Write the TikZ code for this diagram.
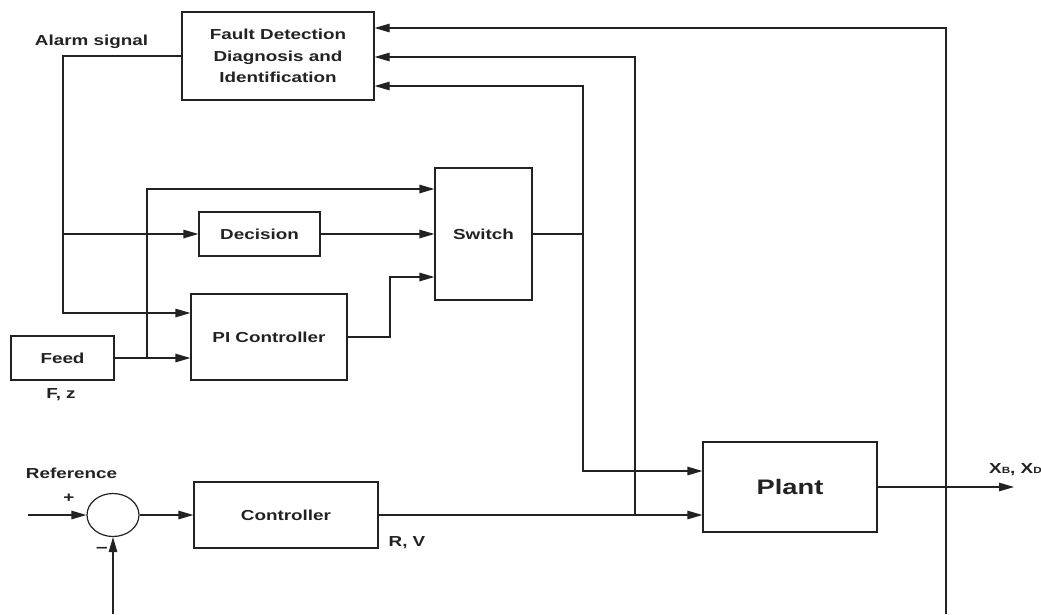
\documentclass[tikz,border=0pt]{standalone}
\usepackage{fontspec}
\setmainfont{Liberation Sans}[FakeStretch=1.3]
\usetikzlibrary{arrows.meta,shapes.geometric,calc}
\definecolor{ink}{HTML}{222222}
\tikzset{
  blk/.style={draw=ink, line width=1.2pt, rectangle, inner sep=0pt, align=center, text=ink,
              font=\bfseries\fontsize{14.5}{21.5}\selectfont},
  lbl/.style={inner sep=0pt, text=ink, font=\bfseries\fontsize{14.5}{17}\selectfont},
  ln/.style={draw=ink, line width=1.2pt},
  arr/.style={ln, -{Triangle[length=15pt,width=8.5pt]}}
}
\begin{document}
\begin{tikzpicture}[x=1pt,y=-1pt]
\useasboundingbox (0,0) rectangle (1041,614);
% blocks
\node[blk, minimum width=192, minimum height=88] (fdi) at (278,56) {Fault Detection\\Diagnosis and\\Identification};
\node[blk, minimum width=121, minimum height=44] (dec) at (259.5,234) {Decision};
\node[blk, minimum width=97, minimum height=132] (sw) at (483.5,234) {Switch};
\node[blk, minimum width=156, minimum height=86] (pi) at (269,337) {PI Controller};
\node[blk, minimum width=103, minimum height=44] (feed) at (62.5,358) {Feed};
\node[blk, minimum width=184, minimum height=66] (ctrl) at (286,515) {Controller};
\node[blk, minimum width=174, minimum height=90, font=\bfseries\fontsize{21}{25}\selectfont] (plant) at (790,487) {Plant};
\node[draw=ink, line width=1.2pt, ellipse, minimum width=52, minimum height=43, inner sep=0pt] (sum) at (113,515) {};
% labels
\node[lbl] (alarm) at (91.5,42) {Alarm signal};
\node[lbl] (fz) at (61,395) {F, z};
\node[lbl] (ref) at (71.5,473) {Reference};
\node[lbl] (plus) at (69,498) {+};
\node[lbl, font=\bfseries\fontsize{16}{17}\selectfont] (minus) at (102,550) {\textendash};
\node[lbl] (rv) at (407,543) {R, V};
\node[lbl, anchor=west] (xbxd) at (989,470) {X{\fontsize{9}{10}\selectfont B}, X{\fontsize{9}{10}\selectfont D}};
% junction coordinates
\coordinate (a2) at (63,234);
\coordinate (a3) at (63,313);
\coordinate (f1) at (147,358);
\coordinate (f2) at (147,189);
\coordinate (p2) at (390,277);
\coordinate (s1) at (583,234);
\coordinate (s2) at (583,86);
\coordinate (s3) at (583,471);
\coordinate (c1) at (635,515);
\coordinate (c2) at (635,57);
\coordinate (o1) at (1014,487);
\coordinate (r0) at (946,614);
\coordinate (r1) at (946,28);
\coordinate (in) at (28,515);
\coordinate (fb) at (113,614);
% alarm signal
\draw[arr] (fdi.west) -| (a3) -- (a3 -| pi.west);
\draw[arr] (a2) -- (a2 -| dec.west);
% feed
\draw[arr] (feed.east) -- (feed.east -| pi.west);
\draw[arr] (f1) -- (f2) -- (f2 -| sw.west);
\draw[arr] (dec.east) -- (dec.east -| sw.west);
\draw[arr] (pi.east) -| (p2) -- (p2 -| sw.west);
% switch output
\draw[ln] (sw.east) -- (s1);
\draw[arr] (s1) -- (s2) -- (s2 -| fdi.east);
\draw[arr] (s1) -- (s3) -- (s3 -| plant.west);
% controller output
\draw[arr] (ctrl.east) -- (ctrl.east -| plant.west);
\draw[arr] (c1) -- (c2) -- (c2 -| fdi.east);
% plant output and feedback
\draw[arr] (plant.east) -- (o1);
\draw[arr] (r0) -- (r1) -- (r1 -| fdi.east);
% reference loop
\draw[arr] (in) -- (sum.west);
\draw[arr] (sum.east) -- (ctrl.west);
\draw[arr] (fb) -- (sum.south);
\end{tikzpicture}
\end{document}
